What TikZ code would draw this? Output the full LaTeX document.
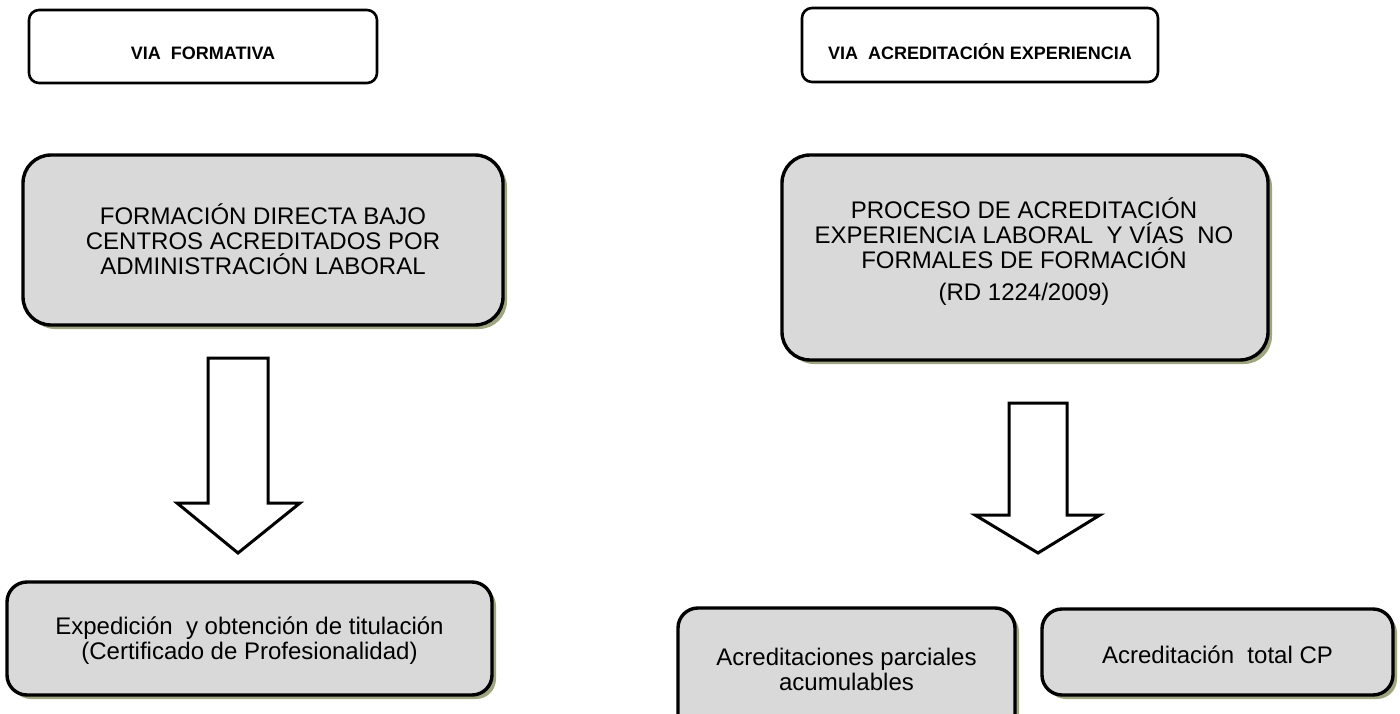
\documentclass[tikz,border=0pt]{standalone}
\usepackage{fontspec}
\setmainfont{Liberation Sans}
\usetikzlibrary{shadows}
\definecolor{boxgray}{RGB}{217,217,217}
\definecolor{shadowol}{RGB}{160,165,128}
\begin{document}
\begin{tikzpicture}[x=1pt,y=-1pt,
  headbox/.style={draw=black, line width=2.6pt, rounded corners=10pt, fill=white, inner sep=0pt, outer sep=0pt},
  graybox/.style={draw=black, line width=3.4pt, fill=boxgray, inner sep=0pt, outer sep=0pt,
     drop shadow={shadow xshift=4pt, shadow yshift=-4pt, fill=shadowol, opacity=1}},
  headtext/.style={font=\fontsize{18}{20}\selectfont\bfseries, inner sep=0pt},
  bodytext/.style={font=\fontsize{24}{25}\selectfont, align=center, inner sep=0pt},
  blockarrow/.style={draw=black, line width=3pt, fill=white, line join=miter}
]
\useasboundingbox (0,0) rectangle (1400,714);
\clip (0,0) rectangle (1400,714);

% headers
\node[headbox, minimum width=348pt, minimum height=73pt] (vf) at (203,46.5) {};
\node[headtext, anchor=base] (vft) at (203,60) {VIA\ \ FORMATIVA};
\node[headbox, minimum width=356pt, minimum height=74pt] (va) at (980,45) {};
\node[headtext, anchor=base] (vat) at (980,60) {VIA\ \ ACREDITACIÓN EXPERIENCIA};

% main gray boxes
\node[graybox, rounded corners=28pt, minimum width=480pt, minimum height=170pt] (fd) at (263,240) {};
\node[bodytext] (fdt) at (263,239) {FORMACIÓN DIRECTA BAJO\\CENTROS ACREDITADOS POR\\ADMINISTRACIÓN LABORAL};

\node[graybox, rounded corners=28pt, minimum width=486pt, minimum height=205pt] (pa) at (1025,257.5) {};
\node[bodytext] (pat) at (1024,252) {PROCESO DE ACREDITACIÓN\\EXPERIENCIA LABORAL\ \ Y VÍAS\ \ NO\\FORMALES DE FORMACIÓN\\[7pt](RD 1224/2009)};

% block arrows
\coordinate (la) at (238,358);
\coordinate (ra) at (1038,403);
\draw[blockarrow] (208,358) -- (268,358) -- (268,503) -- (300,503) -- (238,553) -- (177,503) -- (208,503) -- cycle;
\draw[blockarrow] (1009,403) -- (1067,403) -- (1067,515) -- (1100,515) -- (1038,553) -- (975,515) -- (1009,515) -- cycle;

% result boxes
\node[graybox, rounded corners=20pt, minimum width=485pt, minimum height=113pt] (ex) at (249.5,638.5) {};
\node[bodytext] (ext) at (249.5,641) {Expedición\ \ y obtención de titulación\\(Certificado de Profesionalidad)};

\node[graybox, rounded corners=20pt, minimum width=337pt, minimum height=126pt] (ap) at (846.5,671) {};
\node[bodytext] (apt) at (846.5,669) {Acreditaciones parciales\\acumulables};

\node[graybox, rounded corners=20pt, minimum width=351pt, minimum height=86pt] (at) at (1217.5,652) {};
\node[bodytext] (att) at (1217.5,655) {Acreditación\ \ total CP};
\end{tikzpicture}
\end{document}
